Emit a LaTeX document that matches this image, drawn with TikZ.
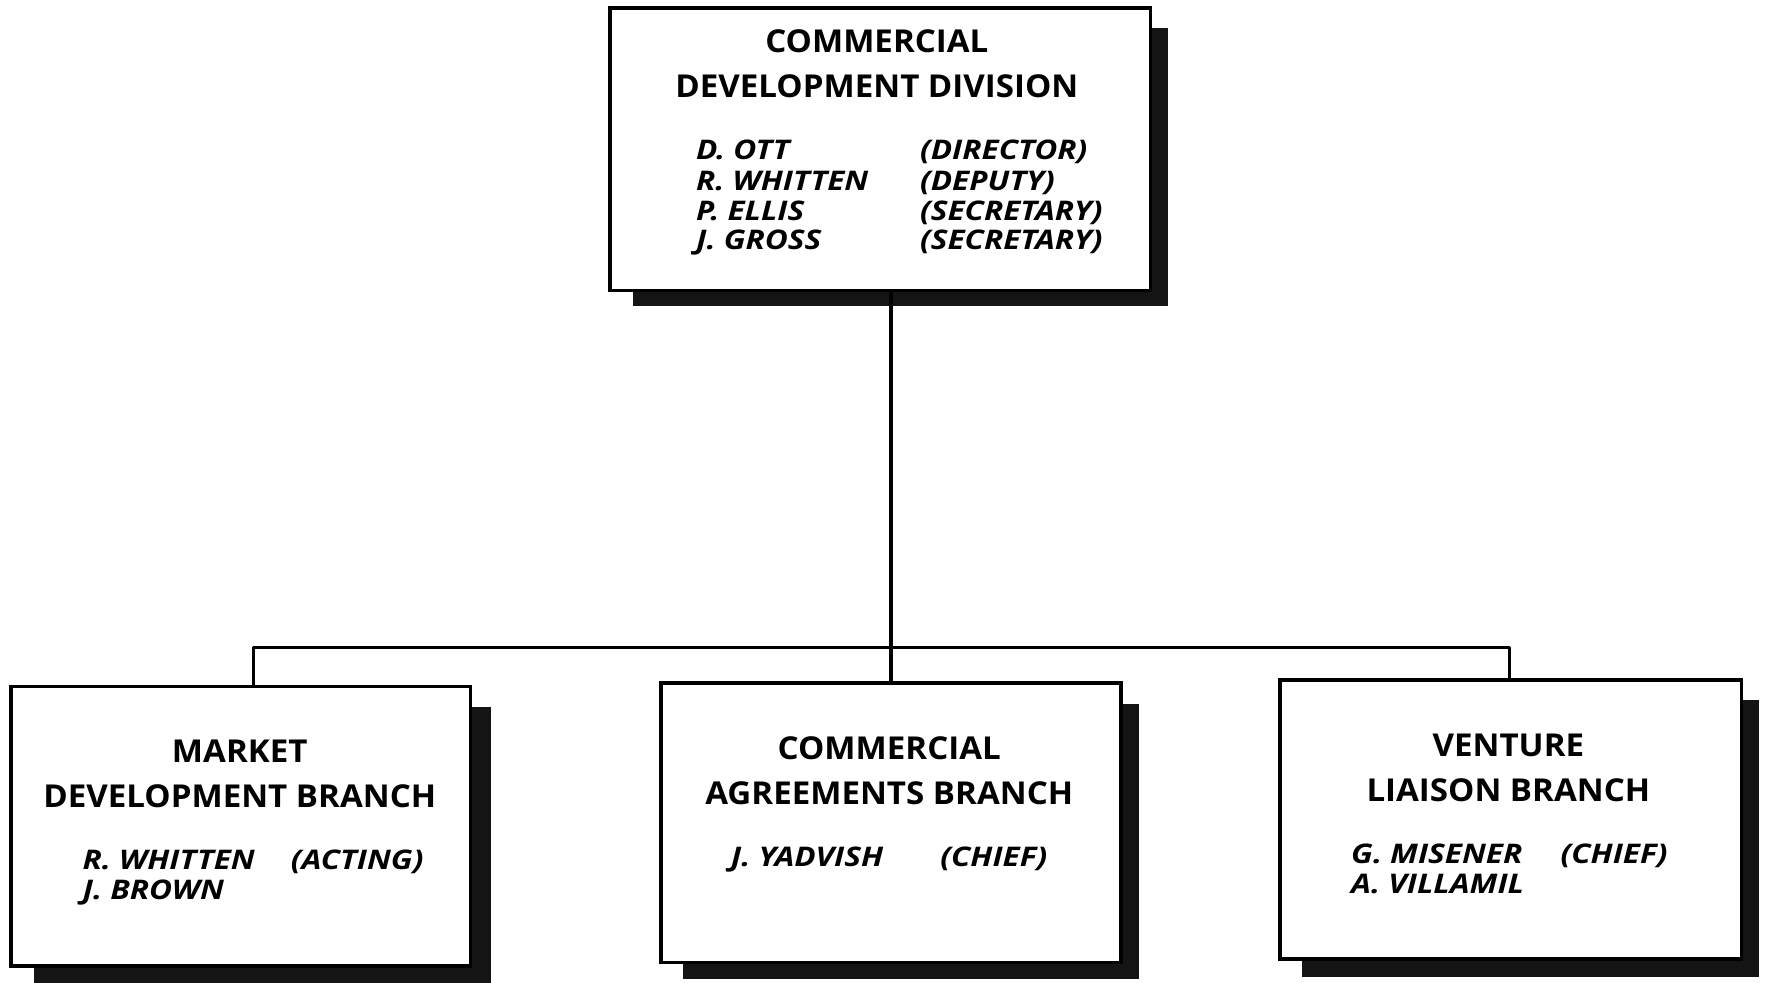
\documentclass[tikz,border=0pt]{standalone}
\usepackage{fontspec}
\setmainfont{Open Sans}
\newfontfamily\orgtitlefont[FakeStretch=1.05]{Open Sans}
\newfontfamily\orgnamefont[FakeStretch=1.17]{Open Sans}
\begin{document}
\begin{tikzpicture}[x=0.5pt,y=-0.5pt,
  orgbox/.style={draw=black,line width=1.6pt,fill=white,inner sep=0pt},
  shade/.style={fill=black!92,draw=none},
  conn/.style={line width=1.4pt,line join=round},
  ttl/.style={anchor=base,inner sep=0pt,font=\orgtitlefont\fontsize{14}{16}\selectfont\bfseries},
  nm/.style={anchor=base west,inner sep=0pt,font=\orgnamefont\fontsize{12}{13.5}\selectfont\bfseries\itshape}]
\useasboundingbox (0,0) rectangle (1568,873);
\fill[white] (0,0) rectangle (1568,873);
% shadows
\fill[shade] (562,25) rectangle (1038,272);
\fill[shade] (30,628) rectangle (436,873);
\fill[shade] (607,625) rectangle (1012,870);
\fill[shade] (1157,622) rectangle (1563,868);
% boxes
\node[orgbox,minimum width=240pt,minimum height=125.5pt] (top) at (782,132.5) {};
\node[orgbox,minimum width=204pt,minimum height=124pt] (left) at (214,734) {};
\node[orgbox,minimum width=204.5pt,minimum height=124pt] (mid) at (791.5,731) {};
\node[orgbox,minimum width=205pt,minimum height=124pt] (right) at (1342,728) {};
% connectors
\coordinate (bl) at (225,575);
\coordinate (br) at (1341,575);
\draw[conn] (top.south -| mid.north) -- (mid.north);
\draw[conn] (bl |- left.north) -- (bl) -- (br) -- (br |- right.north);
% top texts
\node[ttl] (t1) at (779,47) {COMMERCIAL};
\node[ttl] (t2) at (779,87) {DEVELOPMENT DIVISION};
\node[nm] (n1) at (618,142) {D. OTT};
\node[nm] (n2) at (618,169) {R. WHITTEN};
\node[nm] (n3) at (618,196) {P. ELLIS};
\node[nm] (n4) at (618,222) {J. GROSS};
\node[nm] (r1) at (817,142) {(DIRECTOR)};
\node[nm] (r2) at (817,169) {(DEPUTY)};
\node[nm] (r3) at (817,196) {(SECRETARY)};
\node[nm] (r4) at (817,222) {(SECRETARY)};
% left texts
\node[ttl] (l1) at (213,677) {MARKET};
\node[ttl] (l2) at (213,717) {DEVELOPMENT BRANCH};
\node[nm] (ln1) at (73,772) {R. WHITTEN};
\node[nm] (ln2) at (73,799) {J. BROWN};
\node[nm] (lr1) at (258,772) {(ACTING)};
% middle texts
\node[ttl] (m1) at (790,675) {COMMERCIAL};
\node[ttl] (m2) at (790,715) {AGREEMENTS BRANCH};
\node[nm] (mn1) at (649,770) {J. YADVISH};
\node[nm] (mr1) at (835,770) {(CHIEF)};
% right texts
\node[ttl] (v1) at (1340,672) {VENTURE};
\node[ttl] (v2) at (1340,712) {LIAISON BRANCH};
\node[nm] (vn1) at (1200,767) {G. MISENER};
\node[nm] (vn2) at (1200,794) {A. VILLAMIL};
\node[nm] (vr1) at (1386,767) {(CHIEF)};
\end{tikzpicture}
\end{document}
